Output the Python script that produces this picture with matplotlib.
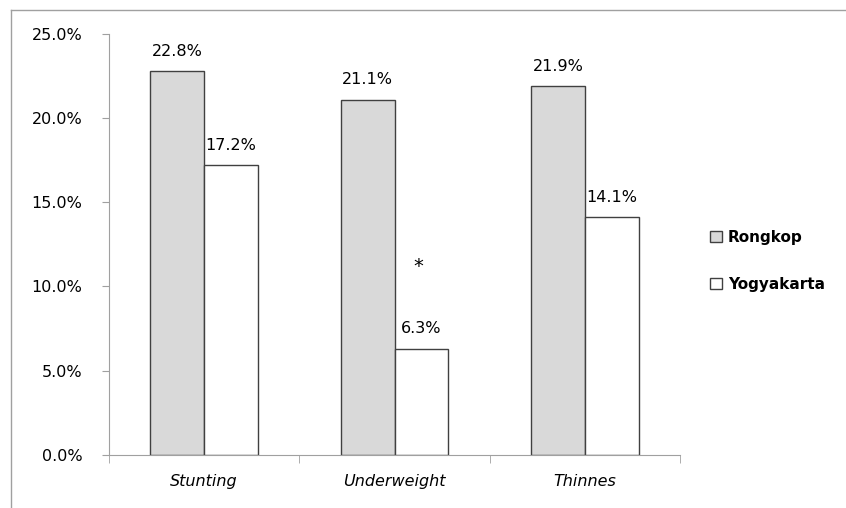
import numpy as np
import matplotlib.pyplot as plt
from matplotlib.ticker import FuncFormatter

categories = ['Stunting', 'Underweight', 'Thinnes']
rongkop = [22.8, 21.1, 21.9]
yogyakarta = [17.2, 6.3, 14.1]
series_names = ['Rongkop', 'Yogyakarta']

plt.rcParams['font.family'] = ['DejaVu Sans']

fig = plt.figure(figsize=(8.46, 5.08), dpi=100)
ax = fig.add_axes([109 / 846, 1 - 454.7 / 508, 571 / 846, 420.7 / 508])

x = np.arange(len(categories))
w = 0.283
b1 = ax.bar(x - w / 2, rongkop, w, color='#d9d9d9', edgecolor='#404040', linewidth=1, label=series_names[0])
b2 = ax.bar(x + w / 2, yogyakarta, w, color='white', edgecolor='#404040', linewidth=1, label=series_names[1])

for bars, vals in [(b1, rongkop), (b2, yogyakarta)]:
    for r, v in zip(bars, vals):
        ax.annotate('%.1f%%' % v, (r.get_x() + r.get_width() / 2, v),
                    xytext=(0, 9), textcoords='offset points',
                    ha='center', va='bottom', fontsize=11.5)

# significance mark
ax.annotate('*', (x[1] + w / 2, yogyakarta[1]), xytext=(-2, 52), textcoords='offset points',
            ha='center', va='bottom', fontsize=14)

ax.set_xlim(-0.5, 2.5)
ax.set_ylim(0, 25)
ax.set_yticks(np.arange(0, 26, 5))
ax.yaxis.set_major_formatter(FuncFormatter(lambda v, p: '%.1f%%' % v))
ax.tick_params(axis='y', labelsize=11.5, length=5, color='#a0a0a0', pad=14)

ax.set_xticks(x)
ax.set_xticklabels(categories, fontsize=11.5, style='italic')
ax.set_xticks([-0.5, 0.5, 1.5, 2.5], minor=True)
ax.tick_params(axis='x', which='major', length=0, pad=14)
ax.tick_params(axis='x', which='minor', length=6, color='#a0a0a0')

for s in ['top', 'right']:
    ax.spines[s].set_visible(False)
ax.spines['left'].set_color('#a0a0a0')
ax.spines['bottom'].set_color('#a0a0a0')

fig.legend(handles=[b1, b2], labels=series_names, loc='upper left',
           bbox_to_anchor=(696 / 846, 1 - 216 / 508), frameon=False,
           handlelength=0.8, handleheight=0.8, handletextpad=0.4,
           labelspacing=2.1, prop={'size': 11, 'weight': 'bold'})

# chart area border
fig.add_artist(plt.Line2D([11 / 846, 11 / 846], [0, 1 - 10 / 508], color='#a0a0a0', lw=1))
fig.add_artist(plt.Line2D([11 / 846, 1], [1 - 10 / 508, 1 - 10 / 508], color='#a0a0a0', lw=1))

fig.savefig('out.png', dpi=100)
